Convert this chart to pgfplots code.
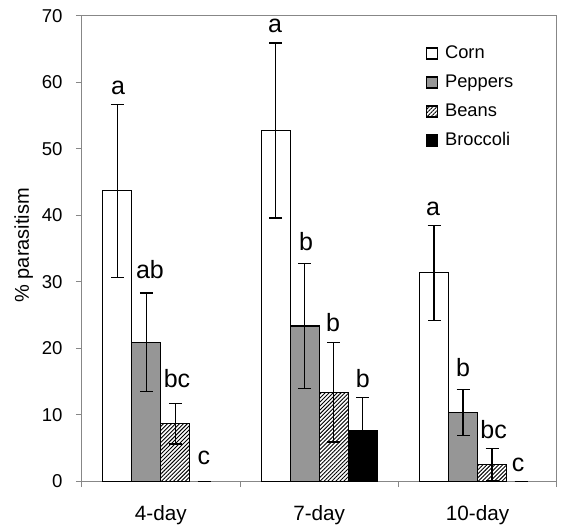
\documentclass[border=0pt]{standalone}
\usepackage{fontspec}
\setmainfont{Liberation Sans}
\usepackage{pgfplots}
\usepackage{pgfplotstable}
\pgfplotsset{compat=1.18}
\usetikzlibrary{patterns.meta}
\definecolor{axgray}{RGB}{135,135,135}
\definecolor{pepgray}{RGB}{150,150,150}

% x = category (0,1,2) + bar offset (bar width 29pt, 158.33pt per category)
\pgfplotstableread{
x y err
-0.2747 43.7 13.0
0.7253 52.75 13.15
1.7253 31.35 7.15
}\corn
\pgfplotstableread{
x y err
-0.0916 20.9 7.4
0.9084 23.35 9.45
1.9084 10.35 3.45
}\peppers
\pgfplotstableread{
x y err
0.0916 8.65 3.05
1.0916 13.4 7.5
2.0916 2.5 2.4
}\beans
\pgfplotstableread{
x y err
1.2747 7.6 5.0
}\broccoli
\pgfplotstableread{
x y err
0.2747 0 0
2.2747 0 0
}\broccolizero
\pgfplotstableread{
x y lab
-0.271 58.1 a
-0.069 30.5 ab
0.102 14.1 bc
0.272 2.5 c
0.721 67.4 a
0.917 34.7 b
1.087 22.5 b
1.275 14.1 b
1.719 40.0 a
1.908 15.7 b
2.102 6.5 bc
2.256 1.4 c
}\letters

\begin{document}
\begin{tikzpicture}
\begin{axis}[
  at={(0pt,0pt)}, anchor=south west,
  width=475pt, height=465.6pt, scale only axis,
  xmin=-0.5, xmax=2.5, ymin=0, ymax=70,
  axis line style={axgray, line width=1.2pt},
  ytick={0,10,...,70},
  xtick={-0.5,0.5,1.5,2.5}, xticklabels={},
  extra x ticks={0,1,2},
  extra x tick labels={4-day,7-day,10-day},
  extra x tick style={major tick length=0pt, xticklabel style={anchor=base, yshift=-39pt}},
  tick align=outside, major tick length=5.7pt,
  xtick pos=bottom, ytick pos=left,
  tick style={axgray, line width=1pt},
  /pgf/number format/assume math mode=true,
  yticklabel style={font=\fontsize{18.6}{22}\selectfont, xshift=-10pt},
  xticklabel style={font=\fontsize{20.7}{24}\selectfont},
  ylabel={\% parasitism},
  ylabel style={at={(axis description cs:-0.122,0.507)}, anchor=center, font=\fontsize{20}{24}\selectfont},
  legend style={at={(axis description cs:0.7235,0.937)}, anchor=north west, draw=none, fill=none,
    font=\fontsize{18.3}{22}\selectfont, row sep=12pt, column sep=7pt, inner sep=0pt,
    nodes={inner sep=0pt, text height=13pt, text depth=4pt}},
  legend cell align=left,
  legend image code/.code={\draw[#1, line width=1.5pt] (0pt,-5.25pt) rectangle (11pt,5.75pt);},
  error bars/error bar style={draw=black, line width=1.2pt},
  error bars/error mark options={draw=black, rotate=90, mark size=6.5pt, line width=1.2pt},
]
\addplot[ybar, bar width=29pt, bar shift=0pt, draw=black, line width=1.2pt, fill=white,
  error bars/.cd, y dir=both, y explicit] table[x=x, y=y, y error=err] {\corn};
\addplot[ybar, bar width=29pt, bar shift=0pt, draw=black, line width=1.2pt, fill=pepgray,
  error bars/.cd, y dir=both, y explicit] table[x=x, y=y, y error=err] {\peppers};
\addplot[ybar, bar width=29pt, bar shift=0pt, draw=black, line width=1.2pt, fill=white,
  postaction={pattern={Lines[angle=45, distance=2.8pt, line width=0.9pt]}},
  error bars/.cd, y dir=both, y explicit] table[x=x, y=y, y error=err] {\beans};
\addplot[ybar, bar width=29pt, bar shift=0pt, draw=black, line width=1.2pt, fill=black,
  error bars/.cd, y dir=both, y explicit] table[x=x, y=y, y error=err] {\broccoli};
\legend{Corn, Peppers, Beans, Broccoli}
\addplot[forget plot, ybar, bar width=29pt, bar shift=0pt, draw=none, fill=none,
  error bars/.cd, y dir=both, y explicit] table[x=x, y=y, y error=err] {\broccolizero};
\addplot[forget plot, only marks, mark=*, mark size=0pt, mark options={draw=none, fill=none},
  nodes near coords, point meta=explicit symbolic,
  nodes near coords style={anchor=base, inner sep=0pt, text=black, font=\fontsize{25}{30}\selectfont}]
  table[x=x, y=y, meta=lab] {\letters};
\end{axis}
\pgfresetboundingbox
\path[use as bounding box] (-81.7pt,-42.7pt) rectangle (479.3pt,481.3pt);
\end{tikzpicture}
\end{document}
